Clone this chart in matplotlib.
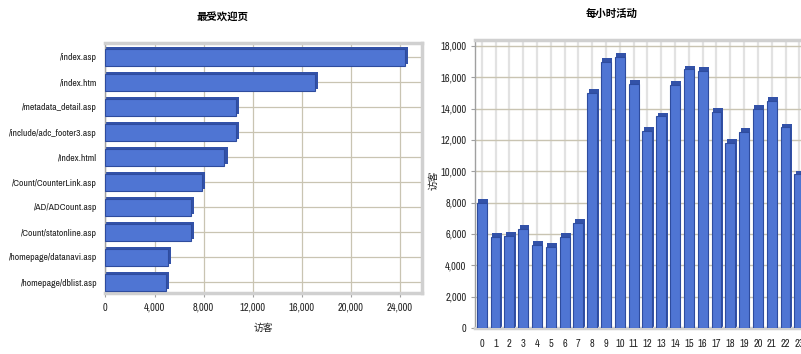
import matplotlib
matplotlib.use("Agg")
import matplotlib.pyplot as plt
import numpy as np
from matplotlib.ticker import FuncFormatter

plt.rcParams['font.family'] = ['Archivo Narrow', 'Liberation Sans', 'Noto Sans CJK SC', 'DejaVu Sans']

# ---- data ----
pages = ["/index.asp", "/index.htm", "/metadata_detail.asp", "/include/adc_footer3.asp",
         "/Index.html", "/Count/CounterLink.asp", "/AD/ADCount.asp", "/Count/statonline.asp",
         "/homepage/datanavi.asp", "/homepage/dblist.asp"]
page_visits = [24400, 17100, 10600, 10600, 9700, 7850, 7000, 6950, 5100, 4900]

hours = [str(h) for h in range(24)]
hour_visits = [8000, 5800, 5900, 6300, 5300, 5200, 5800, 6700, 15000, 17000, 17300, 15600,
               12600, 13500, 15500, 16500, 16400, 13800, 11800, 12500, 14000, 14500, 12800, 9800]

left_title = "最受欢迎页"
right_title = "每小时活动"
axis_label = "访客"

bar_color = "#4F75D3"
bar_edge = "#2E4C9E"
side_color = "#3352A8"
grid_color = "#C9C4B2"
grid_light = "#E2E2E2"
frame_light = "#D0D0D0"
frame_dark = "#A0A0A0"
text_color = "#222222"

fmt = FuncFormatter(lambda v, p: f"{int(v):,}")
cjk = ['Noto Sans CJK SC', 'DejaVu Sans']

fig = plt.figure(figsize=(8.01, 3.54), dpi=100)

# ---- left: horizontal bars ----
ax1 = fig.add_axes([105.5/801, 1-293/354, (422-105.5)/801, (293-43)/354])
y = np.arange(len(pages))
ax1.barh(y - 0.06, [v + 250 for v in page_visits], height=0.68, color=side_color, zorder=2, linewidth=0)
ax1.barh(y, page_visits, height=0.68, color=bar_color, edgecolor=bar_edge, linewidth=0.8, zorder=3)
ax1.set_yticks(y)
ax1.set_yticklabels(pages, fontsize=7, color=text_color)
ax1.set_ylim(len(pages) - 0.56, -0.56)
ax1.set_xlim(0, 25800)
ax1.set_xticks(np.arange(0, 24001, 4000))
ax1.xaxis.set_major_formatter(fmt)
ax1.tick_params(axis='x', labelsize=7.5, labelcolor=text_color, length=3, color=frame_dark, pad=4)
ax1.tick_params(axis='y', length=0, pad=6)
ax1.grid(True, color=grid_color, linewidth=0.9, zorder=0)
ax1.set_axisbelow(True)
for s in ['top', 'right', 'bottom']:
    ax1.spines[s].set_color(frame_light)
    ax1.spines[s].set_linewidth(2.5)
ax1.spines['left'].set_color(frame_dark)
ax1.spines['left'].set_linewidth(1)
ax1.set_xlabel(axis_label, fontsize=7, family=cjk, labelpad=7, color=text_color)
fig.text(222/801, 1-17/354, left_title, ha='center', va='center', fontsize=7.5,
         fontweight='bold', family=cjk)

# ---- right: vertical bars ----
x = np.arange(len(hours))
sp = 13.81
ax2 = fig.add_axes([474.8/801, 1-328/354, 24.1*sp/801, (328-40)/354])
ax2.bar(x + 0.1, [v + 250 for v in hour_visits], width=0.72, color=side_color, zorder=2, linewidth=0)
ax2.bar(x, hour_visits, width=0.72, color=bar_color, edgecolor=bar_edge, linewidth=0.8, zorder=3)
ax2.set_xticks(x)
ax2.set_xticklabels(hours, fontsize=7.5, color=text_color)
ax2.set_xlim(-0.5, 23.6)
ax2.set_ylim(0, 18380)
ax2.set_yticks(np.arange(0, 18001, 2000))
ax2.yaxis.set_major_formatter(fmt)
ax2.tick_params(axis='y', labelsize=7.5, labelcolor=text_color, length=3, color=frame_dark, pad=3)
ax2.tick_params(axis='x', length=0, pad=8)
ax2.grid(True, axis='y', color=grid_color, linewidth=1.0, zorder=0)
ax2.grid(True, axis='x', color=grid_light, linewidth=1.6, zorder=0)
ax2.set_axisbelow(True)
for s in ['top', 'right', 'bottom']:
    ax2.spines[s].set_color(frame_light)
    ax2.spines[s].set_linewidth(2.5)
ax2.spines['left'].set_color(frame_dark)
ax2.spines['left'].set_linewidth(1)
fig.text(433/801, 1-180/354, axis_label, ha='center', va='center', rotation=90,
         fontsize=7, family=cjk, color=text_color)
fig.text(612/801, 1-14/354, right_title, ha='center', va='center', fontsize=7.5,
         fontweight='bold', family=cjk)

fig.savefig("out.png", dpi=100)
